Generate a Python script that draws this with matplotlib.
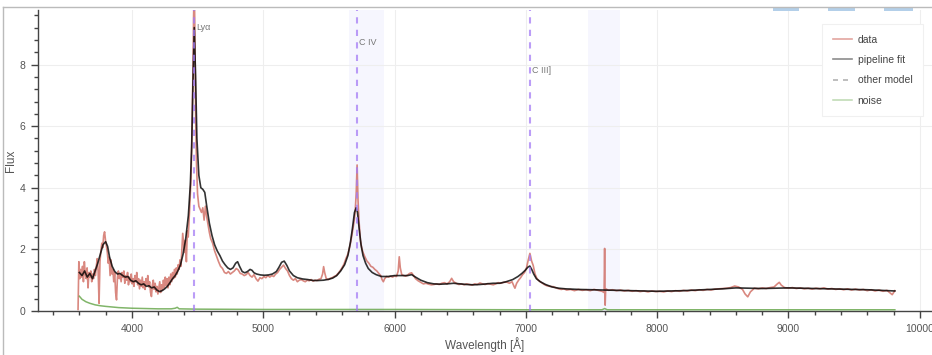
import numpy as np
import matplotlib
matplotlib.use("Agg")
import matplotlib.pyplot as plt
from matplotlib.lines import Line2D
from matplotlib.patches import Rectangle
from matplotlib.ticker import MultipleLocator

plt.rcParams['font.family'] = ['Liberation Sans', 'DejaVu Sans']

data_wave = [3590, 3596, 3603, 3610, 3617, 3624, 3631, 3638, 3645, 3652, 3659, 3666, 3673, 3680, 3687,
             3694, 3701, 3708, 3715, 3722, 3729, 3736, 3743, 3750, 3757, 3764, 3771, 3778, 3785, 3792,
             3799, 3806, 3813, 3820, 3827, 3834, 3841, 3848, 3855, 3862, 3869, 3876, 3883, 3890, 3897,
             3904, 3911, 3918, 3925, 3932, 3939, 3946, 3953, 3960, 3967, 3974, 3981, 3988, 3995, 4002,
             4009, 4016, 4023, 4030, 4037, 4044, 4051, 4058, 4065, 4072, 4079, 4086, 4093, 4100, 4107,
             4114, 4121, 4128, 4135, 4142, 4149, 4156, 4163, 4170, 4177, 4184, 4191, 4198, 4205, 4212,
             4219, 4226, 4233, 4240, 4247, 4254, 4261, 4268, 4275, 4282, 4289, 4296, 4303, 4310, 4317,
             4324, 4331, 4338, 4345, 4352, 4359, 4366, 4373, 4380, 4387, 4394, 4401, 4408, 4415, 4422,
             4429, 4436, 4443, 4450, 4457, 4464, 4470, 4475, 4480, 4486, 4492, 4500, 4510, 4520, 4530,
             4540, 4550, 4560, 4570, 4580, 4590, 4600, 4615, 4630, 4645, 4660, 4675, 4690, 4705, 4720,
             4735, 4750, 4765, 4780, 4795, 4810, 4825, 4840, 4855, 4870, 4885, 4900, 4915, 4930, 4945,
             4960, 4975, 4990, 5005, 5020, 5035, 5050, 5065, 5080, 5095, 5110, 5125, 5140, 5155, 5170,
             5185, 5200, 5215, 5230, 5245, 5260, 5275, 5290, 5305, 5320, 5335, 5350, 5365, 5380, 5395,
             5410, 5425, 5440, 5452, 5460, 5468, 5480, 5495, 5510, 5525, 5540, 5555, 5570, 5585, 5600,
             5615, 5630, 5645, 5660, 5675, 5690, 5700, 5708, 5715, 5722, 5730, 5740, 5750, 5760, 5775,
             5790, 5805, 5820, 5835, 5850, 5865, 5880, 5895, 5905, 5915, 5925, 5940, 5955, 5970, 5985,
             6000, 6015, 6028, 6036, 6044, 6055, 6070, 6085, 6100, 6115, 6130, 6145, 6160, 6180, 6200,
             6220, 6240, 6260, 6280, 6300, 6320, 6340, 6360, 6380, 6400, 6420, 6435, 6450, 6470, 6490,
             6510, 6530, 6550, 6570, 6590, 6610, 6630, 6650, 6670, 6690, 6710, 6730, 6752, 6770, 6790,
             6810, 6830, 6854, 6875, 6895, 6910, 6917, 6930, 6945, 6960, 6975, 6990, 7005, 7018, 7031,
             7044, 7056, 7070, 7085, 7100, 7120, 7140, 7160, 7180, 7209, 7230, 7250, 7270, 7290, 7311,
             7340, 7370, 7400, 7430, 7460, 7490, 7520, 7550, 7580, 7596, 7600, 7604, 7608, 7630, 7660,
             7690, 7720, 7750, 7780, 7810, 7840, 7870, 7900, 7930, 7960, 7990, 8020, 8050, 8080, 8110,
             8140, 8170, 8200, 8230, 8260, 8290, 8320, 8350, 8380, 8410, 8440, 8470, 8500, 8530, 8560,
             8590, 8620, 8650, 8670, 8690, 8710, 8740, 8770, 8800, 8830, 8860, 8890, 8915, 8930, 8945,
             8970, 9000, 9030, 9060, 9090, 9120, 9150, 9180, 9210, 9240, 9270, 9300, 9330, 9360, 9390,
             9420, 9450, 9480, 9510, 9540, 9570, 9600, 9630, 9660, 9690, 9720, 9750, 9770, 9790, 9810]
data_flux = [0.05, 1.60, 1.05, 1.35, 1.10, 1.45, 0.95, 1.60, 1.20, 1.05, 1.40, 0.75, 1.25, 1.10, 1.30,
             0.95, 1.20, 1.05, 1.35, 1.15, 1.45, 1.70, 1.30, 0.25, 1.60, 1.95, 2.20, 2.05, 2.45, 2.57,
             2.30, 2.10, 1.90, 1.55, 1.75, 1.15, 1.66, 1.20, 1.35, 0.95, 1.25, 0.60, 0.36, 1.10, 1.30,
             1.05, 1.20, 0.95, 1.25, 1.10, 1.30, 0.90, 1.15, 1.00, 1.25, 0.85, 1.10, 0.95, 1.20, 0.88,
             1.05, 0.80, 1.15, 0.95, 1.25, 0.85, 1.05, 0.72, 1.00, 0.80, 1.10, 0.75, 0.95, 0.70, 1.05,
             0.85, 1.15, 0.78, 0.95, 0.60, 0.47, 0.85, 1.00, 0.70, 0.90, 0.62, 0.80, 0.55, 0.75, 0.95,
             0.60, 0.85, 0.68, 1.00, 0.75, 1.10, 0.82, 1.05, 0.75, 1.10, 0.85, 1.20, 0.95, 1.25, 1.05,
             1.35, 1.10, 1.40, 1.20, 1.50, 1.35, 1.66, 1.45, 1.95, 2.52, 2.20, 1.90, 2.30, 1.60, 2.60,
             2.40, 3.00, 3.60, 4.30, 5.60, 7.50, 9.60, 10.5, 9.00, 6.20, 4.80, 3.80, 3.40, 3.30, 3.20,
             3.35, 2.95, 3.40, 3.05, 2.80, 2.55, 2.35, 2.20, 1.95, 1.77, 1.60, 1.45, 1.38, 1.25, 1.22,
             1.28, 1.20, 1.25, 1.30, 1.38, 1.33, 1.22, 1.20, 1.15, 1.18, 1.25, 1.15, 1.10, 1.18, 1.05,
             0.97, 1.08, 1.05, 1.12, 1.08, 1.15, 1.10, 1.15, 1.12, 1.20, 1.25, 1.35, 1.42, 1.49, 1.38,
             1.30, 1.15, 1.05, 1.00, 1.05, 0.95, 1.00, 1.02, 0.98, 0.95, 1.00, 0.98, 1.02, 0.97, 1.00,
             0.99, 1.03, 1.05, 1.20, 1.44, 1.25, 1.05, 1.02, 1.06, 1.08, 1.12, 1.15, 1.22, 1.30, 1.40,
             1.52, 1.70, 1.85, 2.10, 2.45, 2.85, 3.20, 3.80, 4.74, 3.60, 2.90, 2.30, 2.05, 1.90, 1.75,
             1.62, 1.55, 1.45, 1.42, 1.35, 1.30, 1.22, 1.15, 1.02, 0.95, 1.05, 1.12, 1.10, 1.13, 1.10,
             1.14, 1.12, 1.30, 1.76, 1.40, 1.18, 1.15, 1.13, 1.17, 1.22, 1.24, 1.15, 1.05, 0.98, 0.93,
             0.88, 0.90, 0.87, 0.85, 0.86, 0.88, 0.86, 0.90, 0.92, 0.88, 0.95, 1.06, 0.95, 0.90, 0.86,
             0.88, 0.85, 0.88, 0.86, 0.84, 0.88, 0.86, 0.91, 0.88, 0.86, 0.89, 0.87, 0.85, 0.88, 0.92,
             0.90, 0.93, 0.94, 0.90, 0.95, 0.80, 0.74, 0.90, 1.00, 1.08, 1.18, 1.25, 1.40, 1.65, 1.87,
             1.62, 1.48, 1.20, 1.05, 0.98, 0.92, 0.86, 0.82, 0.80, 0.79, 0.75, 0.72, 0.70, 0.72, 0.68,
             0.70, 0.66, 0.70, 0.67, 0.69, 0.66, 0.70, 0.67, 0.64, 0.60, 2.03, 0.19, 0.72, 0.67, 0.69,
             0.66, 0.68, 0.65, 0.67, 0.64, 0.66, 0.63, 0.65, 0.62, 0.65, 0.63, 0.64, 0.62, 0.65, 0.63,
             0.66, 0.64, 0.67, 0.65, 0.68, 0.66, 0.69, 0.67, 0.70, 0.68, 0.71, 0.72, 0.73, 0.74, 0.76,
             0.81, 0.78, 0.70, 0.55, 0.46, 0.62, 0.74, 0.72, 0.75, 0.73, 0.76, 0.78, 0.88, 0.93, 0.84,
             0.76, 0.74, 0.76, 0.73, 0.75, 0.72, 0.74, 0.71, 0.74, 0.72, 0.75, 0.71, 0.73, 0.70, 0.72,
             0.69, 0.72, 0.68, 0.71, 0.68, 0.70, 0.66, 0.69, 0.65, 0.68, 0.64, 0.67, 0.60, 0.53, 0.66]

# pipeline fit
fit_wave = [3600, 3620, 3640, 3660, 3680, 3700, 3720, 3740, 3760, 3780, 3800, 3815, 3830, 3850, 3870,
            3890, 3910, 3930, 3950, 3970, 3990, 4010, 4030, 4050, 4070, 4090, 4110, 4130, 4150, 4170,
            4190, 4210, 4230, 4250, 4270, 4290, 4310, 4330, 4350, 4370, 4390, 4410, 4430, 4445, 4455,
            4465, 4475, 4485, 4495, 4510, 4525, 4540, 4555, 4570, 4590, 4610, 4630, 4650, 4670, 4690,
            4710, 4730, 4750, 4770, 4790, 4805, 4820, 4840, 4860, 4880, 4900, 4915, 4930, 4950, 4980,
            5010, 5040, 5070, 5100, 5120, 5140, 5160, 5180, 5200, 5230, 5260, 5300, 5340, 5380, 5420,
            5460, 5500, 5530, 5560, 5590, 5620, 5645, 5665, 5680, 5695, 5708, 5718, 5730, 5745, 5760,
            5780, 5800, 5830, 5860, 5900, 5950, 6000, 6050, 6100, 6130, 6160, 6200, 6250, 6300, 6350,
            6400, 6450, 6500, 6550, 6600, 6650, 6700, 6750, 6800, 6850, 6900, 6940, 6970, 6995, 7015,
            7030, 7045, 7060, 7080, 7110, 7150, 7200, 7250, 7300, 7400, 7500, 7600, 7700, 7800, 7900,
            8000, 8100, 8200, 8300, 8400, 8500, 8600, 8700, 8800, 8900, 9000, 9100, 9200, 9300, 9400,
            9500, 9600, 9700, 9810]
fit_flux = [1.25, 1.15, 1.30, 1.10, 1.22, 1.05, 1.30, 1.55, 1.85, 2.15, 2.25, 2.10, 1.75, 1.45, 1.28,
            1.20, 1.22, 1.15, 1.10, 1.12, 1.00, 0.95, 0.98, 0.90, 0.85, 0.88, 0.80, 0.82, 0.75, 0.78,
            0.68, 0.63, 0.66, 0.72, 0.80, 0.92, 1.05, 1.15, 1.30, 1.50, 1.85, 2.35, 3.10, 4.10, 5.30,
            7.40, 9.20, 7.60, 5.60, 4.40, 4.00, 3.95, 3.85, 3.40, 2.85, 2.45, 2.15, 1.95, 1.80, 1.62,
            1.50, 1.40, 1.35, 1.40, 1.55, 1.60, 1.45, 1.28, 1.24, 1.28, 1.35, 1.32, 1.24, 1.20, 1.17,
            1.16, 1.17, 1.20, 1.28, 1.42, 1.58, 1.62, 1.48, 1.30, 1.15, 1.08, 1.04, 1.02, 0.99, 0.99,
            1.00, 1.03, 1.07, 1.15, 1.30, 1.50, 1.80, 2.25, 2.70, 3.20, 3.35, 3.20, 2.70, 2.15, 1.80,
            1.55, 1.38, 1.25, 1.18, 1.12, 1.12, 1.15, 1.15, 1.15, 1.18, 1.10, 1.00, 0.92, 0.88, 0.87,
            0.88, 0.90, 0.88, 0.86, 0.85, 0.86, 0.88, 0.90, 0.90, 0.95, 1.02, 1.12, 1.22, 1.32, 1.42,
            1.46, 1.35, 1.20, 1.05, 0.95, 0.86, 0.78, 0.74, 0.72, 0.70, 0.69, 0.68, 0.67, 0.66, 0.65,
            0.64, 0.65, 0.66, 0.68, 0.70, 0.72, 0.75, 0.74, 0.73, 0.74, 0.75, 0.74, 0.73, 0.72, 0.71,
            0.70, 0.69, 0.67, 0.65]

# noise spectrum
noise_wave = [3600, 3620, 3650, 3680, 3720, 3760, 3800, 3850, 3900, 4000, 4100, 4200, 4300, 4330, 4345,
              4360, 4500, 5000, 6000, 7000, 7580, 7600, 7620, 8000, 9000, 9810]
noise_flux = [0.48, 0.38, 0.30, 0.25, 0.20, 0.17, 0.15, 0.13, 0.11, 0.09, 0.08, 0.07, 0.07, 0.09, 0.12,
              0.07, 0.06, 0.05, 0.05, 0.04, 0.04, 0.08, 0.04, 0.04, 0.04, 0.04]

# emission lines and masked regions
line_names = ['Lyα', 'C IV', 'C III]']
line_wave = [4475, 5716, 7035]
line_label_y = [9.19, 8.73, 7.82]
mask_lo = [5653, 7473]
mask_hi = [5919, 7717]

W, H = 932, 355
fig = plt.figure(figsize=(W / 100, H / 100), dpi=100)
ax = fig.add_axes([38 / W, 44 / H, (W - 38) / W, 301 / H])

for lo, hi in zip(mask_lo, mask_hi):
    ax.axvspan(lo, hi, color='#f6f6fe', zorder=0, lw=0)

ax.plot(data_wave, data_flux, color='#c0392b', alpha=0.6, lw=1.2, label='data', zorder=3)
ax.plot(fit_wave, fit_flux, color='black', alpha=0.8, lw=1.2, label='pipeline fit', zorder=4)
ax.plot([], [], color='#555555', lw=1.2, ls=(0, (3, 3)), label='other model')
ax.plot(noise_wave, noise_flux, color='#6aa84f', alpha=0.85, lw=1.1, label='noise', zorder=3)

for name, w, ly in zip(line_names, line_wave, line_label_y):
    ax.axvline(w, color='#a57cf5', alpha=0.75, lw=1.5, ls=(0, (3, 3)), zorder=5)
    ax.text(w + 15, ly, name, fontsize=6.5, color='#777777', va='center', ha='left', zorder=6)

ax.set_xlim(3285, 10093)
ax.set_ylim(0, 9.77)
ax.xaxis.set_major_locator(MultipleLocator(1000))
ax.xaxis.set_minor_locator(MultipleLocator(200))
ax.yaxis.set_major_locator(MultipleLocator(2))
ax.yaxis.set_minor_locator(MultipleLocator(0.4))
ax.grid(True, which='major', color='#eeeeee', lw=0.8, zorder=0)
ax.set_axisbelow(True)

for s in ['top', 'right']:
    ax.spines[s].set_visible(False)
for s in ['left', 'bottom']:
    ax.spines[s].set_color('#444444')
    ax.spines[s].set_linewidth(1.0)
ax.tick_params(which='major', direction='out', length=5, width=1, color='#444444',
               labelsize=7.5, labelcolor='#555555', pad=4)
ax.tick_params(which='minor', direction='out', length=3, width=1, color='#444444')

ax.set_xlabel('Wavelength [Å]', fontsize=8.5, color='#555555')
ax.set_ylabel('Flux', fontsize=8.5, color='#555555')
ax.xaxis.set_label_coords(0.5, -0.085)
ax.yaxis.set_label_coords(-0.0235, 0.5)

leg = ax.legend(loc='upper right', bbox_to_anchor=(0.9955, 0.970), fontsize=7.5,
                frameon=True, fancybox=False, edgecolor='#f0f0f0', framealpha=1,
                handlelength=1.9, handletextpad=0.5, labelspacing=1.0, borderpad=1.0)
leg.get_frame().set_linewidth(0.8)
for t in leg.get_texts():
    t.set_color('#444444')
for h in leg.get_lines():
    h.set_alpha(0.45)

# outer border of the widget
fig.add_artist(Line2D([3 / W, 1], [1 - 7 / H, 1 - 7 / H], transform=fig.transFigure,
                      color='#bbbbbb', lw=1))
fig.add_artist(Line2D([3 / W, 3 / W], [0, 1 - 7 / H], transform=fig.transFigure,
                      color='#bbbbbb', lw=1))
for x0, x1 in [(773, 799), (828, 855), (884, 913)]:
    fig.add_artist(Rectangle((x0 / W, 1 - 10.5 / H), (x1 - x0) / W, 3.5 / H,
                             transform=fig.transFigure, color='#b3cfe9', lw=0))

fig.savefig('out.png', dpi=100)
